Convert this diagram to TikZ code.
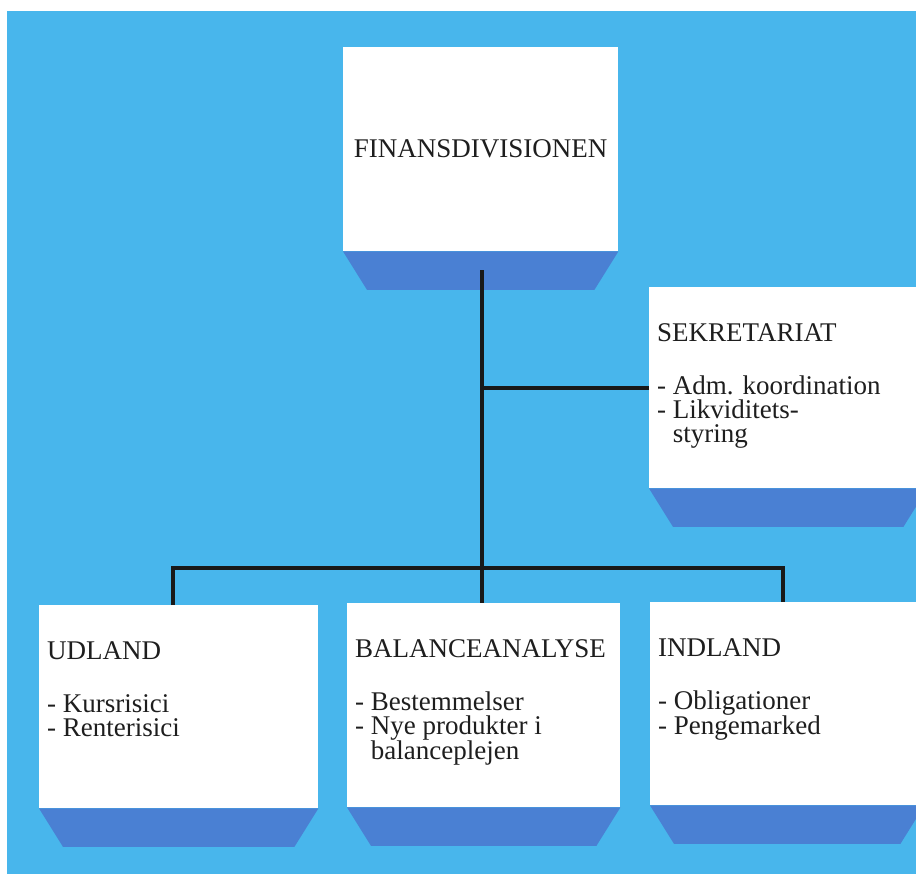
\documentclass[tikz,border=0pt]{standalone}
\usepackage{fontspec}
\setmainfont{Liberation Serif}
\definecolor{bgblue}{RGB}{72,182,236}
\definecolor{shadeblue}{RGB}{74,128,211}
\definecolor{ink}{RGB}{30,30,30}

\begin{document}
\begin{tikzpicture}[x=1pt,y=-1pt,
    box/.style={fill=white,anchor=north west,inner sep=0pt,text=ink,font=\fontsize{27}{24}\selectfont},
    boxtext/.style={anchor=north west,align=left,inner sep=0pt,text=ink,font=\fontsize{27}{24}\selectfont},
    wire/.style={line width=3.8pt,draw=black!90}]
    \useasboundingbox(0,0)rectangle(916,874);
    \clip(0,0)rectangle(916,874);
    \fill[bgblue](7,11)rectangle(916,874);
    \node[box,minimum width=275pt,minimum height=204pt](fin)at(343,47){FINANSDIVISIONEN};
    \node[box,minimum width=278pt,minimum height=201pt](sek)at(649,287){};
    \node[box,minimum width=279pt,minimum height=203pt](udl)at(39,605){};
    \node[box,minimum width=273pt,minimum height=204pt](bal)at(347,603){};
    \node[box,minimum width=274pt,minimum height=203pt](ind)at(650,602){};
    \foreach \b in {fin,sek,udl,bal,ind}
        \fill[shadeblue](\b.south west)--(\b.south east)--([xshift=-24pt,yshift=-38.5pt]\b.south east)--([xshift=24pt,yshift=-38.5pt]\b.south west)--cycle;
    \node[boxtext](sek-txt)at([xshift=8pt,yshift=-36pt]sek.north west){SEKRETARIAT\\[29pt]- Adm. koordination\\- Likviditets-\\\phantom{- }styring};
    \node[boxtext](udl-txt)at([xshift=8pt,yshift=-36pt]udl.north west){UDLAND\\[29pt]- Kursrisici\\- Renterisici};
    \node[boxtext](bal-txt)at([xshift=8pt,yshift=-36pt]bal.north west){BALANCEANALYSE\\[29pt]- Bestemmelser\\- Nye produkter i\\\phantom{- }balanceplejen};
    \node[boxtext](ind-txt)at([xshift=8pt,yshift=-36pt]ind.north west){INDLAND\\[29pt]- Obligationer\\- Pengemarked};
    \coordinate(stem)at([xshift=1.5pt,yshift=-19pt]fin.south);
    \coordinate(bus)at([yshift=35pt]bal.north);
    \draw[wire](stem)--(stem|-bal.north);
    \draw[wire](sek.west)--(sek.west-|stem);
    \draw[wire]([xshift=-5.5pt]udl.north)|-(bus)-|([xshift=-4pt]ind.north);
\end{tikzpicture}
\end{document}
